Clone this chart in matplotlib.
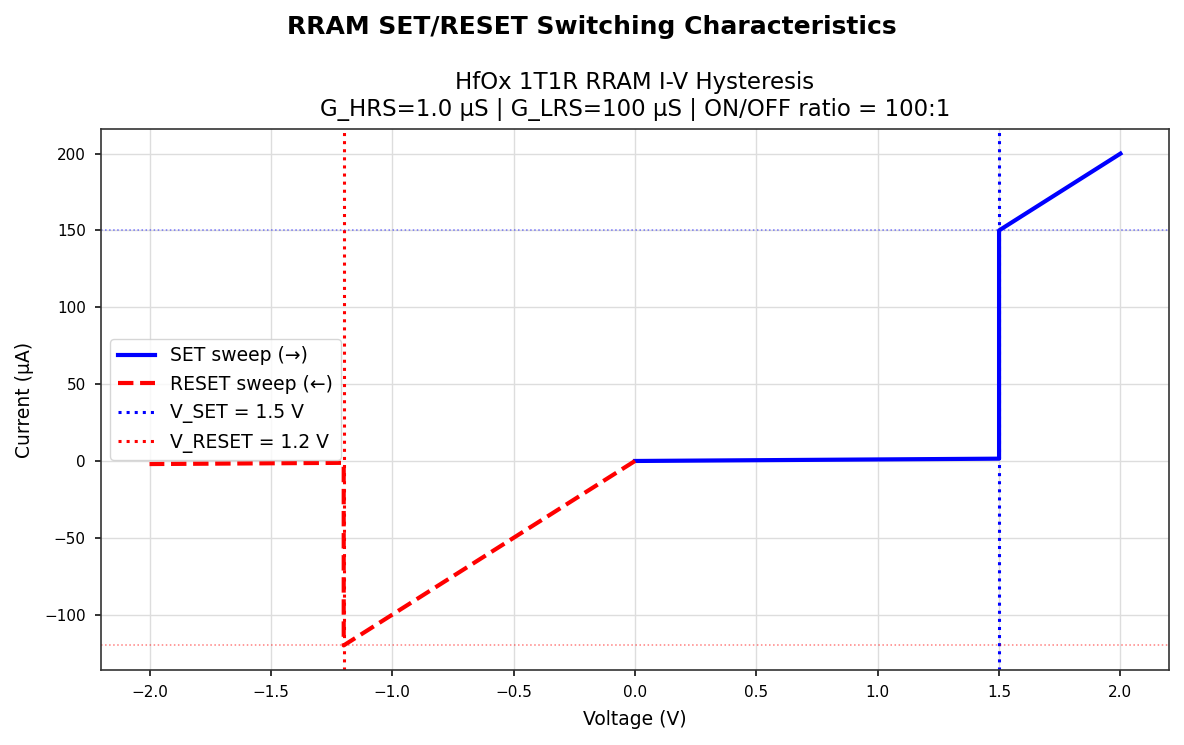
import matplotlib
matplotlib.use("Agg")
import matplotlib.pyplot as plt

# ── Data (µA vs V) ────────────────────────────────────────────────────────────
set_v    = [0.0, 1.5, 1.5, 2.0]
set_i    = [0.0, 1.5, 150.0, 200.0]
reset_v  = [0.0, -1.2, -1.2, -2.0]
reset_i  = [0.0, -120.0, -1.2, -2.0]

V_SET    = 1.5
V_RESET  = -1.2
I_LRS_SET   = 150.0
I_LRS_RESET = -120.0


def main():
    fig, ax = plt.subplots(figsize=(11.84, 7.45), dpi=100)
    fig.subplots_adjust(left=0.0853, right=0.9873, top=0.8268, bottom=0.1007)

    ax.plot(set_v, set_i, color="blue", lw=3, label="SET sweep (→)")
    ax.plot(reset_v, reset_i, color="red", lw=3, ls="--", label="RESET sweep (←)")
    ax.axvline(V_SET, color="blue", lw=2.2, ls=":", label="V_SET = 1.5 V")
    ax.axvline(V_RESET, color="red", lw=2.2, ls=":", label=f"V_RESET = {abs(V_RESET)} V")
    ax.axhline(I_LRS_SET, color="blue", lw=1.1, ls=":", alpha=0.5)
    ax.axhline(I_LRS_RESET, color="red", lw=1.1, ls=":", alpha=0.5)

    ax.set_xlabel("Voltage (V)", fontsize=13.5, labelpad=7)
    ax.set_ylabel("Current (µA)", fontsize=13.5, labelpad=7)
    ax.set_title("HfOx 1T1R RRAM I-V Hysteresis\n"
                 "G_HRS=1.0 µS | G_LRS=100 µS | ON/OFF ratio = 100:1",
                 fontsize=16.5, pad=9.5)
    fig.suptitle("RRAM SET/RESET Switching Characteristics",
                 fontsize=18, fontweight="bold", y=0.98)

    ax.grid(True, color="#dddddd", lw=1)
    ax.legend(loc="center left", fontsize=13.5)
    ax.tick_params(labelsize=11, color="#333333", width=1.4, length=4.5, pad=6.5)
    for sp in ax.spines.values():
        sp.set_edgecolor("#333333")
        sp.set_linewidth(1.2)

    fig.savefig("out.png", dpi=100)
    plt.close(fig)


if __name__ == "__main__":
    main()
